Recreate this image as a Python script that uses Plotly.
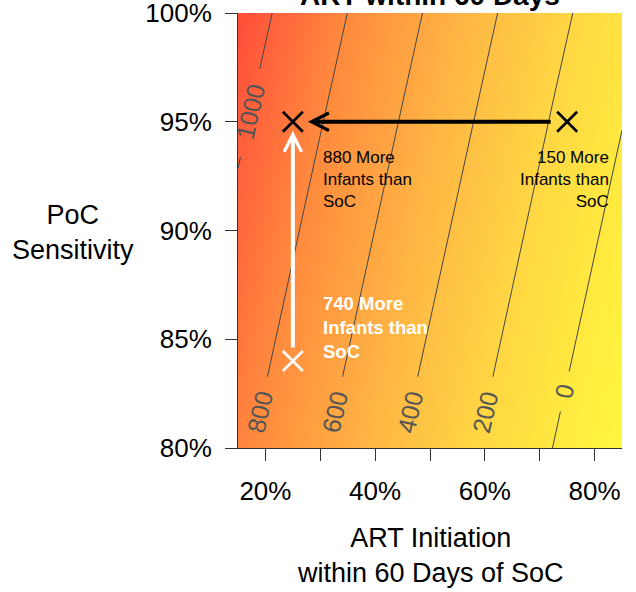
import numpy as np
import plotly.graph_objects as go

# Grid: ART initiation within 60 days (%) by PoC sensitivity (%)
art_pct = [15, 25, 35, 45, 55, 65, 75, 85]
sens_pct = [80, 85, 90, 95, 100]

# Additional infants initiating ART compared with SoC, one row per sensitivity
infants_sens80 = [837, 691, 545, 399, 253, 107, -39, -185]
infants_sens85 = [900, 754, 608, 462, 316, 170, 24, -122]
infants_sens90 = [964, 818, 672, 526, 380, 234, 88, -58]
infants_sens95 = [1027, 880, 735, 589, 443, 297, 150, 5]
infants_sens100 = [1091, 945, 799, 653, 507, 361, 215, 69]

contour_levels = [1000, 800, 600, 400, 200, 0]

# Highlighted scenarios
scen_art = [25, 75, 25]
scen_sens = [95, 95, 84]
scen_gain = [880, 150, 740]

x_tick_vals = [20, 30, 40, 50, 60, 70, 80]
x_tick_text = ["20%", "", "40%", "", "60%", "", "80%"]
y_tick_vals = [80, 85, 90, 95, 100]
y_tick_text = ["80%", "85%", "90%", "95%", "100%"]

X = np.array(art_pct, dtype=float)
Y = np.array(sens_pct, dtype=float)
Z = np.array([infants_sens80, infants_sens85, infants_sens90,
              infants_sens95, infants_sens100], dtype=float)

FONT = "Liberation Sans, Arial, sans-serif"
LINE_COL = "#454545"

colorscale = [
    [0.00, "#FFF83E"],
    [0.15, "#FFE93F"],
    [0.31, "#FFD643"],
    [0.54, "#FFB444"],
    [0.77, "#FF8A3E"],
    [1.00, "#FF4C3A"],
]

fig = go.Figure()
fig.add_trace(go.Heatmap(
    x=art_pct, y=sens_pct, z=Z, zsmooth="best",
    colorscale=colorscale, zmin=-200, zmax=1100,
    showscale=False, hoverinfo="skip",
))


def row_at(yv):
    """Bilinear row of the grid at sensitivity yv."""
    j = min(max(int(np.searchsorted(Y, yv, side="right")) - 1, 0), len(Y) - 2)
    t = (yv - Y[j]) / (Y[j + 1] - Y[j])
    return Z[j] * (1 - t) + Z[j + 1] * t


def crossing(level, yv):
    row = row_at(yv)
    if row.min() <= level <= row.max():
        return float(np.interp(level, row[::-1], X[::-1]))
    return None


# label placement along each contour: (label height, hidden band)
label_spots = {
    1000: (95.5, (93.4, 97.4)),
    800: (81.66, (79.0, 83.26)),
    600: (81.66, (79.0, 83.26)),
    400: (81.66, (79.0, 83.26)),
    200: (81.66, (79.0, 83.26)),
    0: (82.6, (81.7, 83.5)),
}

ys_fine = np.linspace(Y[0], Y[-1], 801)
annotations = []
for lev in contour_levels:
    lab_y, (g0, g1) = label_spots[lev]
    lx, ly = [], []
    for yv in ys_fine:
        xc = crossing(lev, yv)
        if xc is None or g0 <= yv <= g1:
            lx.append(None)
            ly.append(None)
        else:
            lx.append(xc)
            ly.append(float(yv))
    fig.add_trace(go.Scatter(x=lx, y=ly, mode="lines",
                             line=dict(color=LINE_COL, width=1),
                             hoverinfo="skip", connectgaps=False))
    xl = crossing(lev, lab_y)
    if xl is not None:
        annotations.append(dict(
            x=xl, y=lab_y, xref="x", yref="y", text=str(lev),
            showarrow=False, textangle=-77,
            font=dict(family=FONT, size=25, color="#555555"),
            xanchor="center", yanchor="middle",
        ))

# scenario markers
fig.add_trace(go.Scatter(
    x=scen_art, y=scen_sens, mode="markers",
    marker=dict(symbol="x-thin", size=20,
                line=dict(width=2.6, color=["black", "black", "white"])),
    hoverinfo="skip",
))

# arrows between scenarios
annotations.append(dict(
    x=scen_art[0], y=scen_sens[0], ax=scen_art[1], ay=scen_sens[1],
    xref="x", yref="y", axref="x", ayref="y", text="",
    showarrow=True, arrowhead=5, arrowsize=0.85, arrowwidth=4,
    arrowcolor="black", standoff=15, startstandoff=15,
))
annotations.append(dict(
    x=scen_art[0], y=scen_sens[0], ax=scen_art[2], ay=scen_sens[2],
    xref="x", yref="y", axref="x", ayref="y", text="",
    showarrow=True, arrowhead=5, arrowsize=0.85, arrowwidth=4,
    arrowcolor="white", standoff=9, startstandoff=12,
))

# scenario captions
annotations.append(dict(
    x=scen_art[0], y=scen_sens[0], xref="x", yref="y",
    text=f"{scen_gain[0]} More<br>Infants than<br>SoC",
    showarrow=False, xanchor="left", yanchor="top", align="left",
    xshift=28, yshift=-24,
    font=dict(family=FONT, size=17, color="black"),
))
annotations.append(dict(
    x=scen_art[1], y=scen_sens[1], xref="x", yref="y",
    text=f"{scen_gain[1]} More<br>Infants than<br>SoC",
    showarrow=False, xanchor="right", yanchor="top", align="right",
    xshift=44, yshift=-24,
    font=dict(family=FONT, size=17, color="black"),
))
annotations.append(dict(
    x=scen_art[2], y=scen_sens[2], xref="x", yref="y",
    text=f"<b>{scen_gain[2]} More<br>Infants than<br>SoC</b>",
    showarrow=False, xanchor="left", yanchor="bottom", align="left",
    xshift=28, yshift=-3,
    font=dict(family=FONT, size=18.5, color="white"),
))

# title and axis titles
annotations.append(dict(
    x=0.5, y=1, xref="paper", yref="paper", text="<b>ART within 60 Days</b>",
    showarrow=False, xanchor="center", yanchor="bottom",
    font=dict(family=FONT, size=28, color="black"),
))
annotations.append(dict(
    x=73, y=232, xref="paper", yref="paper",
    text="PoC<br>Sensitivity", showarrow=False,
    xanchor="center", yanchor="middle", align="center",
    font=dict(family=FONT, size=27, color="black"),
))
annotations.append(dict(
    x=0.5, y=0, xref="paper", yref="paper",
    text="ART Initiation<br>within 60 Days of SoC", showarrow=False,
    xanchor="center", yanchor="top", align="center", yshift=-73,
    font=dict(family=FONT, size=27, color="black"),
))

# convert pixel placement of the y title into paper coordinates
L, R, T, B, W, H = 238, 14, 13, 144, 636, 592
pw, ph = W - L - R, H - T - B
for a in annotations:
    if a.get("text") == "PoC<br>Sensitivity":
        a["x"] = (a["x"] - L) / pw
        a["y"] = 1 - (a["y"] - T) / ph

axis_common = dict(
    ticks="outside", ticklen=12, tickwidth=1, tickcolor="#333333",
    showline=True, linecolor="#333333", linewidth=1, mirror=False,
    showgrid=False, zeroline=False, ticklabeloverflow="allow",
    automargin=False,
    tickfont=dict(family=FONT, size=26, color="black"),
)

fig.update_layout(
    width=W, height=H,
    margin=dict(l=L, r=R, t=T, b=B, autoexpand=False),
    paper_bgcolor="white", plot_bgcolor="white",
    showlegend=False,
    xaxis=dict(range=[15, 85], tickvals=x_tick_vals, ticktext=x_tick_text,
               ticklabelstandoff=8, **axis_common),
    yaxis=dict(range=[80, 100], tickvals=y_tick_vals, ticktext=y_tick_text,
               ticklabelstandoff=8, **axis_common),
    annotations=annotations,
)

fig.write_html("out.html")
